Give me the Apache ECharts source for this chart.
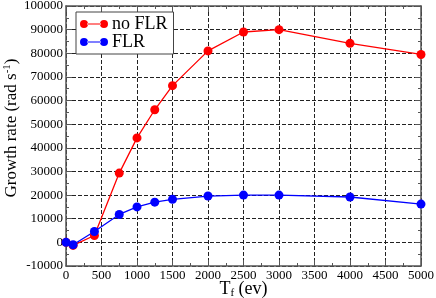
<!DOCTYPE html>
<html>
<head>
<meta charset="utf-8">
<script src="https://cdn.jsdelivr.net/npm/echarts@6/dist/echarts.min.js"></script>
<style>html,body{margin:0;padding:0;background:#fff;}#c{width:436px;height:298px;}</style>
</head>
<body>
<div id="c"></div>
<script>
var tf = [0, 100, 400, 750, 1000, 1250, 1500, 2000, 2500, 3000, 4000, 5000];
var noFLR = [0, -1300, 2900, 29300, 44200, 56100, 66300, 81000, 89000, 90000, 84200, 79500];
var FLR = [0, -1000, 4600, 11800, 15000, 17000, 18200, 19600, 20000, 20000, 19200, 16200];

var font = 'Liberation Serif';
var chart = echarts.init(document.getElementById('c'));
function pairs(xs, ys){ return xs.map(function(x,i){return [x, ys[i]];}); }
var iconPath = 'path://M1,5 A4,4 0 1,0 9,5 A4,4 0 1,0 1,5 Z M8,4.4 L22,4.4 L22,5.6 L8,5.6 Z M21,5 A4,4 0 1,0 29,5 A4,4 0 1,0 21,5 Z';
var axisLineStyle = {color: '#555', width: 1.5};
function gridLine(){ return {show: true, lineStyle: {color: '#222', type: 'dashed', width: 1}}; }
function plain(v){ return String(v); }
chart.setOption({
  animation: false,
  backgroundColor: '#fff',
  grid: {left: 66, right: 15, top: 6, bottom: 32, containLabel: false, outerBoundsMode: 'none'},
  legend: {
    orient: 'vertical', left: 76, top: 12,
    backgroundColor: '#fff', borderColor: '#444', borderWidth: 1,
    padding: [3, 6, 3, 4], itemGap: 0, itemWidth: 28, itemHeight: 9,
    textStyle: {fontFamily: font, fontSize: 18, color: '#000', lineHeight: 14, padding: [0,0,0,-1]},
    data: [{name: 'no FLR', icon: iconPath}, {name: 'FLR', icon: iconPath}]
  },
  xAxis: [{
    type: 'value', min: 0, max: 5000, interval: 500,
    name: 'T{sub|f} (ev)', nameLocation: 'middle', nameGap: 13, nameMoveOverlap: false,
    nameTextStyle: {fontFamily: font, fontSize: 18, color: '#000',
      rich: {sub: {fontFamily: font, fontSize: 11, verticalAlign: 'bottom', padding: [9,0,0,0]}}},
    axisLine: {show: true, onZero: false, lineStyle: axisLineStyle},
    axisTick: {show: true, inside: true, length: 6, lineStyle: {color: '#555'}},
    minorTick: {show: true, splitNumber: 2, length: 3, lineStyle: {color: '#555'}},
    axisLabel: {fontFamily: font, fontSize: 13, color: '#000', margin: 3, formatter: plain},
    splitLine: gridLine()
  }, {
    type: 'value', min: 0, max: 5000, interval: 500, position: 'top',
    axisLine: {show: true, onZero: false, lineStyle: axisLineStyle},
    axisTick: {show: true, inside: true, length: 6, lineStyle: {color: '#555'}},
    minorTick: {show: true, splitNumber: 2, length: 3, lineStyle: {color: '#555'}},
    axisLabel: {show: false}, splitLine: {show: false}
  }],
  yAxis: [{
    type: 'value', min: -10000, max: 100000, interval: 10000,
    name: 'Growth rate (rad s{sup|-1})', nameLocation: 'middle', nameGap: 44, nameMoveOverlap: false,
    nameTextStyle: {fontFamily: font, fontSize: 17, color: '#000', padding: [0, 0, 0, 16],
      rich: {sup: {fontFamily: font, fontSize: 11, verticalAlign: 'top', padding: [0,0,9,0]}}},
    axisLine: {show: true, onZero: false, lineStyle: axisLineStyle},
    axisTick: {show: true, inside: true, length: 6, lineStyle: {color: '#555'}},
    minorTick: {show: true, splitNumber: 2, length: 3, lineStyle: {color: '#555'}},
    axisLabel: {fontFamily: font, fontSize: 13, color: '#000', margin: 3, formatter: plain},
    splitLine: gridLine()
  }, {
    type: 'value', min: -10000, max: 100000, interval: 10000, position: 'right',
    axisLine: {show: true, onZero: false, lineStyle: axisLineStyle},
    axisTick: {show: true, inside: true, length: 6, lineStyle: {color: '#555'}},
    minorTick: {show: true, splitNumber: 2, length: 3, lineStyle: {color: '#555'}},
    axisLabel: {show: false}, splitLine: {show: false}
  }],
  series: [{
    name: 'no FLR', type: 'line', data: pairs(tf, noFLR),
    symbol: 'circle', symbolSize: 9, showAllSymbol: true,
    itemStyle: {color: '#ff0000'}, lineStyle: {color: '#ff0000', width: 1.3}
  }, {
    name: 'FLR', type: 'line', data: pairs(tf, FLR),
    symbol: 'circle', symbolSize: 9, showAllSymbol: true,
    itemStyle: {color: '#0000ff'}, lineStyle: {color: '#0000ff', width: 1.3}
  }]
});
</script>
</body>
</html>
